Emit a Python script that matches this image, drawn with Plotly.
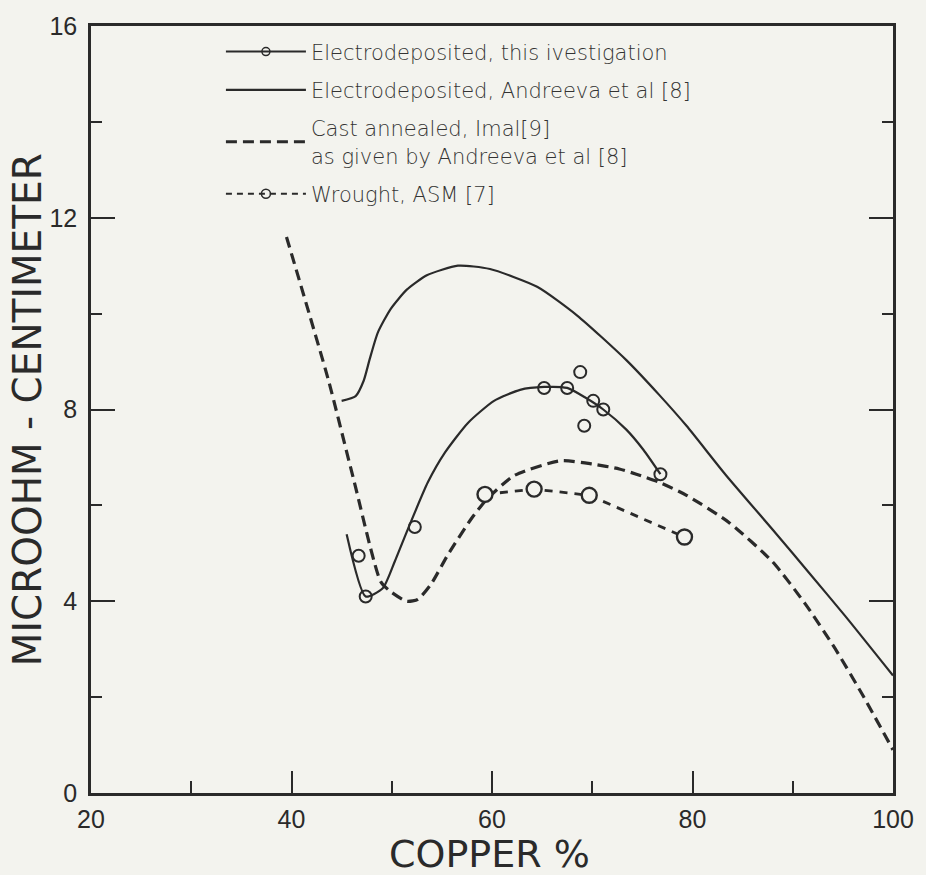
import plotly.graph_objects as go

# ---- data ----
andreeva_x = [45.0, 46.4, 47.2, 47.8, 48.6, 49.9, 51.5, 53.5, 56.6, 59.8, 64.5, 68.5, 73.4, 76.7, 79.4, 83.3, 88.3, 91.6, 95.2, 100.0]
andreeva_y = [8.18, 8.28, 8.6, 9.05, 9.6, 10.1, 10.5, 10.8, 11.0, 10.93, 10.56, 9.96, 9.03, 8.30, 7.66, 6.64, 5.42, 4.60, 3.70, 2.45]

imal_x = [39.5, 41.2, 43.7, 46.2, 48.9, 49.9, 51.5, 52.6, 53.9, 55.6, 57.9, 59.5, 62.2, 66.8, 70.1, 72.7, 74.4, 76.7, 79.4, 83.6, 88.0, 91.3, 94.2, 96.9, 100.0]
imal_y = [11.6, 10.4, 8.6, 6.54, 4.41, 4.2, 4.0, 4.04, 4.35, 4.97, 5.71, 6.13, 6.62, 6.93, 6.86, 6.76, 6.65, 6.48, 6.21, 5.65, 4.82, 3.93, 3.02, 2.07, 0.9]

this_curve_x = [45.5, 47.4, 49.1, 50.3, 51.6, 53.6, 55.3, 57.6, 60.2, 62.8, 65.2, 67.5, 69.3, 71.1, 73.4, 75.1, 76.8]
this_curve_y = [5.4, 4.1, 4.27, 4.83, 5.5, 6.48, 7.1, 7.72, 8.18, 8.41, 8.47, 8.45, 8.25, 8.0, 7.58, 7.16, 6.65]
this_pts_x = [46.7, 47.4, 52.3, 65.2, 67.5, 68.8, 69.2, 70.1, 71.1, 76.8]
this_pts_y = [4.95, 4.1, 5.55, 8.45, 8.45, 8.78, 7.66, 8.18, 8.0, 6.65]

wrought_x = [59.3, 64.2, 69.7, 79.2]
wrought_y = [6.23, 6.34, 6.21, 5.34]

x_ticks = [20, 40, 60, 80, 100]
y_ticks = [0, 4, 8, 12, 16]

INK = "#2a2a2a"
BG = "#f3f3ee"
LEG_FONT = dict(family="DejaVu Sans, Liberation Sans", size=21, color="#333333", weight=200)

fig = go.Figure()

# Electrodeposited, this investigation
fig.add_trace(go.Scatter(x=this_curve_x, y=this_curve_y, mode="lines", line=dict(color=INK, width=2.2, shape="spline", smoothing=0.6),
                         showlegend=False, legendgroup="a", hoverinfo="skip"))
fig.add_trace(go.Scatter(x=this_pts_x, y=this_pts_y, mode="markers",
                         marker=dict(symbol="circle-open", size=12, color=INK, line=dict(width=2)),
                         showlegend=False, legendgroup="a"))
fig.add_trace(go.Scatter(x=[None], y=[None], mode="lines+markers", name="Electrodeposited, this ivestigation",
                         line=dict(color=INK, width=2), marker=dict(symbol="circle-open", size=8, color=INK, line=dict(width=1.5)),
                         legendgroup="a"))

# Electrodeposited, Andreeva
fig.add_trace(go.Scatter(x=andreeva_x, y=andreeva_y, mode="lines", name="Electrodeposited, Andreeva et al [8]",
                         line=dict(color=INK, width=2.2, shape="spline", smoothing=0.6), legendgroup="b"))

# Cast annealed, Imal
fig.add_trace(go.Scatter(x=imal_x, y=imal_y, mode="lines", name="Cast annealed, Imal[9]<br>as given by Andreeva et al [8]",
                         line=dict(color=INK, width=3.2, dash="11px,6px", shape="spline", smoothing=0.6), legendgroup="c"))

# Wrought, ASM
fig.add_trace(go.Scatter(x=wrought_x, y=wrought_y, mode="lines", line=dict(color=INK, width=2.8, dash="8px,7px"),
                         showlegend=False, legendgroup="d", hoverinfo="skip"))
fig.add_trace(go.Scatter(x=wrought_x, y=wrought_y, mode="markers",
                         marker=dict(symbol="circle", size=15, color=BG, line=dict(width=2.4, color=INK)),
                         showlegend=False, legendgroup="d"))
fig.add_trace(go.Scatter(x=[None], y=[None], mode="lines+markers", name="Wrought, ASM [7]",
                         line=dict(color=INK, width=2, dash="6px,5px"), marker=dict(symbol="circle-open", size=9, color=INK, line=dict(width=1.5)),
                         legendgroup="d"))

tickfont = dict(family="Liberation Sans Narrow, Liberation Sans, DejaVu Sans", size=25, color=INK)

fig.update_xaxes(range=[20, 100], tickvals=x_ticks, ticktext=[str(v) for v in x_ticks],
                 showgrid=False, zeroline=False, showline=True, linecolor=INK, linewidth=2.5, mirror=True,
                 ticks="inside", ticklen=22, tickwidth=2, tickcolor=INK, tickfont=tickfont, ticklabelstandoff=2,
                 minor=dict(ticks="inside", dtick=10, tick0=20, ticklen=12, tickwidth=2, tickcolor=INK))
fig.update_yaxes(range=[0, 16], tickvals=y_ticks, ticktext=[str(v) for v in y_ticks],
                 showgrid=False, zeroline=False, showline=True, linecolor=INK, linewidth=2.5, mirror="ticks",
                 ticks="inside", ticklen=24, tickwidth=2, tickcolor=INK, tickfont=tickfont, ticklabelstandoff=6,
                 minor=dict(ticks="inside", dtick=2, tick0=0, ticklen=11, tickwidth=2, tickcolor=INK))

fig.add_annotation(text="COPPER %", xref="paper", yref="paper", x=0.497, y=-0.079, yanchor="middle", xanchor="center",
                   showarrow=False, font=dict(family="DejaVu Sans", size=38, color=INK))
fig.add_annotation(text="MICROOHM - CENTIMETER", xref="paper", yref="paper", x=-0.079, y=0.5, xanchor="center", yanchor="middle",
                   textangle=-90, showarrow=False, font=dict(family="DejaVu Sans", size=39, color=INK))

fig.update_layout(
    width=926, height=875,
    margin=dict(l=91, r=28, t=19, b=82),
    paper_bgcolor=BG, plot_bgcolor=BG,
    legend=dict(x=0.162, y=0.993, xanchor="left", yanchor="top", bgcolor="rgba(0,0,0,0)",
                font=LEG_FONT, itemwidth=80, tracegroupgap=8, traceorder="grouped"),
    showlegend=True,
)

fig.write_html("out.html", config={"displayModeBar": False},
               post_script="document.body.style.margin='0';document.body.style.backgroundColor='#f3f3ee';")
